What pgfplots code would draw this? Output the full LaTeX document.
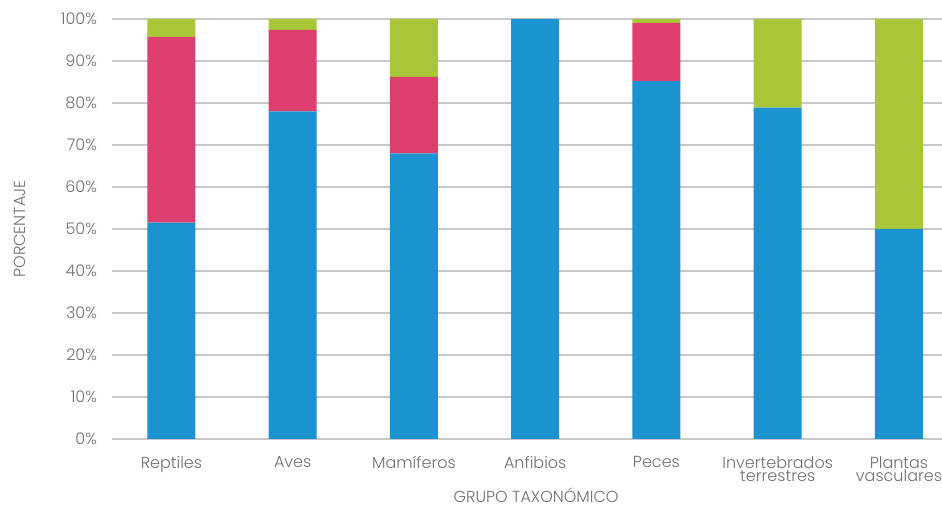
\documentclass[border=0pt]{standalone}
\usepackage{pgfplots}
\pgfplotsset{compat=1.18}
\usepackage{fontspec}
\setmainfont{Poppins}[UprightFont={* Light}]
\definecolor{cblue}{HTML}{1C93D0}
\definecolor{cpink}{HTML}{DF3F6F}
\definecolor{cgreen}{HTML}{A8C638}
\definecolor{ctext}{HTML}{707070}
\definecolor{cgrid}{HTML}{C8C8C8}
\begin{document}
\begin{tikzpicture}
\useasboundingbox (0,0) rectangle (471pt,253.5pt);
\begin{axis}[
  at={(56pt,34pt)}, anchor=south west,
  scale only axis, width=415pt, height=210pt,
  ybar stacked, bar width=24pt,
  xmin=-0.49, xmax=6.355, ymin=0, ymax=100,
  xtick=data,
  xticklabels={Reptiles,Aves,Mam\'iferos,Anfibios,Peces,{Invertebrados\\terrestres},{Plantas\\vasculares}},
  xticklabel style={align=center, font=\fontsize{8}{6.8}\selectfont, text=ctext, anchor=north, yshift=-5.2pt, text depth=0pt},
  ytick={0,10,...,100},
  yticklabel={\pgfmathprintnumber{\tick}\%},
  yticklabel style={font=\fontsize{8}{9}\selectfont, text=ctext, xshift=-4pt},
  /pgf/number format/assume math mode=true,
  ymajorgrids, grid style={cgrid, line width=1pt},
  axis x line*=bottom, axis y line*=left,
  x axis line style={cgrid, line width=1pt, -},
  y axis line style={draw=none},
  tick style={draw=none},
  ylabel={PORCENTAJE}, xlabel={GRUPO TAXON\'OMICO},
  label style={font=\fontsize{8}{9}\selectfont, text=ctext},
  ylabel style={at={(axis description cs:-0.1108,0.5)}, anchor=center, rotate=0},
  xlabel style={at={(axis description cs:0.511,-0.135)}, anchor=center, inner sep=1pt},
  every axis plot/.append style={draw=none},
]
\addplot[fill=cblue] coordinates {(0,51.5) (1,78) (2,68) (3,100) (4,85.2) (5,78.9) (6,50.0)};
\addplot[fill=cpink] coordinates {(0,44.2) (1,19.4) (2,18.2) (3,0) (4,13.9) (5,0) (6,0)};
\addplot[fill=cgreen] coordinates {(0,4.3) (1,2.6) (2,13.8) (3,0) (4,0.9) (5,21.1) (6,50.0)};
\end{axis}
\end{tikzpicture}
\end{document}
